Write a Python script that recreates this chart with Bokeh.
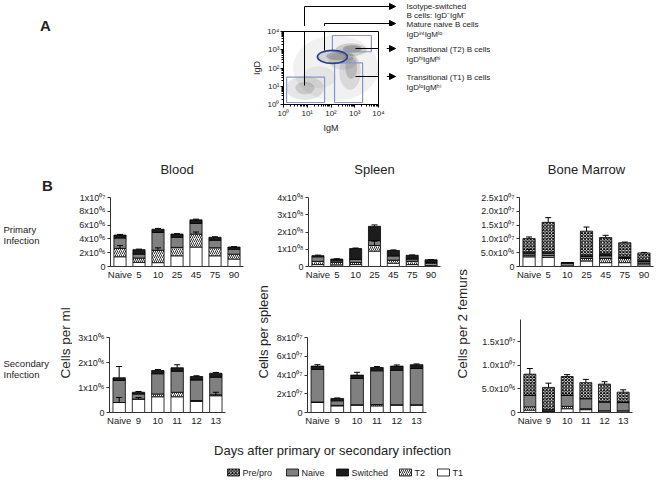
import math
import numpy as np
from bokeh.plotting import figure
from bokeh.models import (ColumnDataSource, FactorRange, Range1d, FixedTicker,
                          Arrow, NormalHead, TeeHead, Whisker)
from bokeh.layouts import row, column
from bokeh.embed import file_html
from bokeh.resources import INLINE
from bokeh.core.properties import value

FONT = "Liberation Sans"
TXT = "#222222"

# ---------------- data ----------------
primary_days = ["Naive", "5", "10", "25", "45", "75", "90"]
secondary_days = ["Naive", "9", "10", "11", "12", "13"]

# Blood, primary infection (cells per ml, x1e6)
blood1_T1 = [1.41, 0.60, 0.56, 1.55, 2.82, 1.55, 1.08]
blood1_T2 = [1.22, 0.62, 1.79, 1.22, 1.88, 1.17, 0.70]
blood1_Naive = [1.50, 0.56, 2.58, 1.46, 1.54, 1.08, 0.71]
blood1_Switched = [0.42, 0.66, 0.47, 0.47, 0.52, 0.43, 0.33]
blood1_err = [0.10, 0.08, 0.12, 0.06, 0.10, 0.08, 0.06]
blood1_err_T2 = [0.40, 0.0, 0.35, 0.0, 0.30, 0.0, 0.0]

# Spleen, primary infection (cells per spleen, x1e8)
spleen1_T1 = [0.11, 0.09, 0.11, 0.89, 0.19, 0.11, 0.06]
spleen1_T2 = [0.19, 0.15, 0.13, 0.33, 0.18, 0.19, 0.13]
spleen1_Naive = [0.26, 0.09, 0.17, 0.28, 0.24, 0.13, 0.05]
spleen1_Switched = [0.07, 0.10, 0.63, 0.83, 0.32, 0.22, 0.15]
spleen1_err = [0.03, 0.02, 0.03, 0.08, 0.03, 0.02, 0.01]
spleen1_err_T2 = [0.0, 0.0, 0.0, 0.25, 0.0, 0.0, 0.0]

# Bone marrow, primary infection (cells per 2 femurs, x1e6)
marrow1_T1 = [3.5, 3.3, 0.1, 2.0, 1.4, 1.4, 0.6]
marrow1_T2 = [0.6, 0.7, 0.1, 0.9, 1.5, 1.5, 0.6]
marrow1_Naive = [0.7, 0.8, 1.0, 0.7, 1.0, 0.3, 0.6]
marrow1_Switched = [0.4, 0.4, 0.2, 0.5, 0.75, 0.3, 0.5]
marrow1_Prepro = [4.9, 10.8, 0.0, 8.7, 5.85, 5.1, 2.6]
marrow1_err = [0.6, 1.7, 0.0, 1.5, 0.8, 0.25, 0.2]
marrow1_err_Switched = [1.0, 0.0, 0.0, 0.0, 0.0, 0.0, 0.0]

# Blood, secondary infection (x1e6)
blood2_T1 = [0.40, 0.54, 0.63, 0.63, 0.44, 0.67]
blood2_T2 = [0.00, 0.00, 0.11, 0.18, 0.04, 0.04]
blood2_Naive = [0.88, 0.20, 0.81, 0.84, 0.82, 0.70]
blood2_Switched = [0.11, 0.07, 0.13, 0.14, 0.14, 0.16]
blood2_err = [0.45, 0.03, 0.04, 0.12, 0.03, 0.03]
blood2_err_T1 = [0.20, 0.06, 0.0, 0.0, 0.0, 0.14]

# Spleen, secondary infection (x1e7)
spleen2_T1 = [1.07, 0.71, 0.78, 0.71, 0.78, 0.78]
spleen2_T2 = [0.05, 0.05, 0.05, 0.14, 0.05, 0.05]
spleen2_Naive = [3.48, 0.49, 2.80, 3.60, 3.67, 3.87]
spleen2_Switched = [0.35, 0.25, 0.36, 0.35, 0.45, 0.40]
spleen2_err = [0.15, 0.05, 0.30, 0.10, 0.12, 0.08]

# Bone marrow, secondary infection (x1e6)
marrow2_T1 = [0.5, 0.3, 0.8, 0.6, 0.35, 0.35]
marrow2_T2 = [0.7, 0.0, 0.5, 0.2, 0.0, 0.0]
marrow2_Naive = [2.4, 0.3, 2.3, 2.1, 1.85, 1.75]
marrow2_Switched = [0.1, 0.0, 0.1, 0.1, 0.1, 0.1]
marrow2_Prepro = [4.4, 4.7, 3.9, 3.3, 3.7, 2.1]
marrow2_err = [1.2, 0.9, 0.4, 0.7, 0.5, 0.5]

# tick labels
blood1_ticks = [0, 2, 4, 6, 8, 10]
blood1_labels = ["0", "2x10⁰⁶", "4x10⁰⁶", "6x10⁰⁶", "8x10⁰⁶", "1x10⁰⁷"]
spleen1_ticks = [0, 1, 2, 3, 4]
spleen1_labels = ["0", "1x10⁰⁸", "2x10⁰⁸", "3x10⁰⁸", "4x10⁰⁸"]
marrow1_ticks = [0, 5, 10, 15, 20, 25]
marrow1_labels = ["0", "5.0x10⁰⁶", "1.0x10⁰⁷", "1.5x10⁰⁷", "2.0x10⁰⁷", "2.5x10⁰⁷"]
blood2_ticks = [0, 1, 2, 3]
blood2_labels = ["0", "1x10⁰⁶", "2x10⁰⁶", "3x10⁰⁶"]
spleen2_ticks = [0, 2, 4, 6, 8]
spleen2_labels = ["0", "2x10⁰⁷", "4x10⁰⁷", "6x10⁰⁷", "8x10⁰⁷"]
marrow2_ticks = [0, 5, 10, 15]
marrow2_labels = ["0", "5.0x10⁰⁶", "1.0x10⁰⁷", "1.5x10⁰⁷"]

# Flow cytometry panel (log10 units): density clouds and gates
flow_decades = [0, 1, 2, 3, 4]
flow_decade_labels = ["10⁰", "10¹", "10²", "10³", "10⁴"]
cloud_x = [2.2, 0.9, 0.9, 2.2, 2.25, 2.85, 2.9, 2.8, 2.85, 2.5, 1.5]
cloud_y = [2.0, 0.9, 0.9, 2.6, 2.65, 3.0, 3.05, 1.8, 2.0, 2.4, 1.5]
cloud_w = [3.6, 1.6, 0.8, 1.5, 0.9, 1.3, 0.8, 0.9, 0.5, 1.2, 1.4]
cloud_h = [3.6, 1.3, 0.7, 0.8, 0.45, 0.7, 0.4, 2.0, 1.2, 1.0, 1.2]
cloud_alpha = [0.07, 0.13, 0.16, 0.16, 0.28, 0.2, 0.32, 0.13, 0.2, 0.1, 0.06]
gate_left = [0.13, 2.06, 2.15]
gate_right = [1.73, 3.70, 3.33]
gate_bottom = [0.11, 2.89, 0.11]
gate_top = [1.50, 3.78, 2.28]
naive_gate = dict(x=2.06, y=2.61, w=1.26, h=0.72)
ann_texts = [["Isotype-switched", "B cells: IgD⁻IgM⁻"],
             ["Mature naive B cells", "IgDⁱⁿᵗIgMˡᵒ"],
             ["Transitional (T2) B cells", "IgDʰⁱIgMʰⁱ"],
             ["Transitional (T1) B cells", "IgDˡᵒIgMʰⁱ"]]

legend_order = ["Pre/pro", "Naive", "Switched", "T2", "T1"]

LAYERS = ["T1", "T2", "Naive", "Switched", "Pre/pro"]
STYLE = {
    "T1": dict(fill_color="white"),
    "T2": dict(fill_color="white", hatch_pattern="/", hatch_color="black",
               hatch_scale=4, hatch_weight=0.8),
    "Naive": dict(fill_color="#808080"),
    "Switched": dict(fill_color="#1c1c1c"),
    "Pre/pro": dict(fill_color="white", hatch_pattern="x", hatch_color="black",
                    hatch_scale=3.2, hatch_weight=1),
}


def to_data(geo, rx, ry):
    """page pixel -> data coordinates of a panel"""
    cx = rx - geo["x0"]
    cy = ry - geo["y0"]
    x = (cx - geo["fl"]) / geo["fw"] * geo["n"]
    y = (geo["fb"] - cy) / (geo["fb"] - geo["ft"]) * geo["yend"]
    return x, y


def text_fig(w, h):
    p = figure(width=w, height=h, x_range=Range1d(0, w), y_range=Range1d(0, h),
               x_axis_type=None, y_axis_type=None, output_backend="svg",
               toolbar_location=None, min_border=0, min_border_left=0, min_border_right=0,
               min_border_top=0, min_border_bottom=0, frame_align=False)
    p.outline_line_color = None
    p.background_fill_color = "white"
    p.border_fill_color = "white"
    return p


def put(p, x0, y0, rx, ry, text, size, align="left", bold=False, angle=0.0):
    """write a text at page pixel (rx, ry) into a text figure placed at (x0, y0)"""
    h = p.height
    p.text(x=[rx - x0], y=[h - (ry - y0)], text=[text],
           text_font=value(FONT), text_font_size=value(size), text_color=TXT,
           text_align=align, text_baseline="middle", angle=angle,
           text_font_style="bold" if bold else "normal")


def line_in(p, x0, y0, a, b, head=False):
    """leader line between page pixels a and b inside a strip figure"""
    h = p.height
    xs, ys = a[0] - x0, h - (a[1] - y0)
    xe, ye = b[0] - x0, h - (b[1] - y0)
    p.add_layout(Arrow(x_start=xs, y_start=ys, x_end=xe, y_end=ye, line_color="black",
                       line_width=1,
                       end=NormalHead(size=6, fill_color="black", line_color="black") if head else None))


def make_panel(geo, days, layers, err_total, inner, ticks, labels, title=None):
    w, h, fl, fw, ft, fb = geo["w"], geo["h"], geo["fl"], geo["fw"], geo["ft"], geo["fb"]
    p = figure(width=w, height=h, x_range=FactorRange(*days), y_range=Range1d(0, geo["yend"]),
               output_backend="svg", toolbar_location=None, frame_align=False, min_border=0,
               min_border_left=fl, min_border_right=w - fl - fw,
               min_border_top=ft, min_border_bottom=h - fb)
    p.outline_line_color = None
    p.background_fill_color = "white"
    p.border_fill_color = "white"
    p.xgrid.visible = False
    p.ygrid.visible = False
    if title:
        p.title.text = title
        p.title.align = "center"
        p.title.text_font = FONT
        p.title.text_font_size = "13px"
        p.title.text_font_style = "normal"
        p.title.text_color = TXT
        p.title.standoff = 42
    cum = np.zeros(len(days))
    levels = {}
    for name in LAYERS:
        vals = np.array(layers.get(name, [0] * len(days)), dtype=float)
        if np.any(vals):
            src = ColumnDataSource(dict(day=days, bottom=cum.copy(), top=cum + vals))
            p.vbar(x="day", bottom="bottom", top="top", width=0.64, source=src,
                   line_color="black", line_width=0.8, **STYLE[name])
            cum = cum + vals
        levels[name] = cum.copy()
    errs = [(cum, err_total)] + [(levels[k], v) for k, v in inner.items()]
    for base, e in errs:
        idx = [i for i, v in enumerate(e) if v > 0]
        if not idx:
            continue
        src = ColumnDataSource(dict(day=[days[i] for i in idx],
                                    lower=[float(base[i]) for i in idx],
                                    upper=[float(base[i] + e[i]) for i in idx]))
        wk = Whisker(source=src, base="day", lower="lower", upper="upper", dimension="height",
                     line_color="black", line_width=1, lower_head=None,
                     upper_head=TeeHead(size=6, line_color="black", line_width=1),
                     level="annotation")
        p.add_layout(wk)
    xa = p.xaxis[0]
    xa.axis_line_color = "#333333"
    xa.major_tick_out = 0
    xa.major_tick_in = 0
    xa.minor_tick_line_color = None
    xa.major_label_standoff = 2
    xa.major_label_text_font = FONT
    xa.major_label_text_font_size = "9.5px"
    xa.major_label_text_color = TXT
    ya = p.yaxis[0]
    ya.ticker = FixedTicker(ticks=ticks)
    ya.major_label_overrides = {t: l for t, l in zip(ticks, labels)}
    ya.axis_line_color = "#333333"
    ya.major_tick_line_color = "#333333"
    ya.major_tick_out = 3
    ya.major_tick_in = 0
    ya.minor_tick_line_color = None
    ya.major_label_standoff = 2
    ya.major_label_text_font = FONT
    ya.major_label_text_font_size = "9px"
    ya.major_label_text_color = TXT
    return p


# ---------------- row A: flow cytometry ----------------
HA = 138
TOP_H = 26                      # strip above the flow plot
txtA = text_fig(238, HA)
put(txtA, 0, 0, 45, 25, "A", "15px", align="center", bold=True)

# plot canvas x 238..386, y 26..138 ; frame x 283..378, y 31..104
geoA = dict(x0=238, y0=TOP_H, w=148, h=HA - TOP_H, fl=45, fw=95, ft=5, fb=78, n=4, yend=4)
pa = figure(width=geoA["w"], height=geoA["h"], x_range=Range1d(0, 4), y_range=Range1d(0, 4),
            output_backend="svg", toolbar_location=None, frame_align=False, min_border=0,
            min_border_left=geoA["fl"], min_border_right=geoA["w"] - geoA["fl"] - geoA["fw"],
            min_border_top=geoA["ft"], min_border_bottom=geoA["h"] - geoA["fb"])
pa.outline_line_color = "black"
pa.outline_line_width = 1
pa.xgrid.visible = False
pa.ygrid.visible = False
minor = [k + math.log10(m) for k in range(4) for m in range(2, 10)]
for ax, lab in ((pa.xaxis[0], "IgM"), (pa.yaxis[0], "IgD")):
    ax.ticker = FixedTicker(ticks=flow_decades, minor_ticks=minor)
    ax.major_label_overrides = {t: l for t, l in zip(flow_decades, flow_decade_labels)}
    ax.major_tick_out = 3
    ax.major_tick_in = 0
    ax.minor_tick_out = 2
    ax.minor_tick_in = 0
    ax.axis_line_color = "black"
    ax.major_label_text_font = FONT
    ax.major_label_text_font_size = "8px"
    ax.major_label_text_color = TXT
    ax.major_label_standoff = 1
    ax.axis_label = lab
    ax.axis_label_text_font = FONT
    ax.axis_label_text_font_size = "9px"
    ax.axis_label_text_font_style = "normal"
    ax.axis_label_text_color = TXT
    ax.axis_label_standoff = 2

pa.ellipse(x=cloud_x, y=cloud_y, width=cloud_w, height=cloud_h,
           fill_color="#3a3a3a", fill_alpha=cloud_alpha, line_color=None)
pa.quad(left=gate_left, right=gate_right, bottom=gate_bottom, top=gate_top,
        fill_color=None, line_color="#8696cc", line_width=1.2)
pa.ellipse(x=[naive_gate["x"]], y=[naive_gate["y"]], width=[naive_gate["w"]],
           height=[naive_gate["h"]], fill_color=None, line_color="#2c3f8f", line_width=1.8)

# leader lines: parts inside the flow plot frame
inner_segs = [((304, 85), (304, 31)), ((324, 50), (324, 31)),
              ((355, 48), (378, 48)), ((355, 76), (378, 76))]
for a, b in inner_segs:
    xa_, ya_ = to_data(geoA, *a)
    xb_, yb_ = to_data(geoA, *b)
    pa.segment(x0=[xa_], y0=[ya_], x1=[xb_], y1=[yb_], line_color="black", line_width=1)

# leader lines crossing the plot's thin borders (drawn as tee heads)
bridges = [((303.5, 28.5), (304, 28.5), 8), ((323.5, 28.5), (324, 28.5), 8),
           ((382, 47.5), (382, 48), 10), ((382, 75.5), (382, 76), 10)]
for a, b, size in bridges:
    xs, ys = to_data(geoA, *a)
    xe, ye = to_data(geoA, *b)
    pa.add_layout(Arrow(x_start=xs, y_start=ys, x_end=xe, y_end=ye, line_color="black",
                        line_width=1, end=TeeHead(size=size, line_color="black", line_width=1)))

# leader lines above the frame
top_strip = text_fig(166, TOP_H)
line_in(top_strip, 238, 0, (304, TOP_H), (304, 6))
line_in(top_strip, 238, 0, (304, 6), (395, 6), head=True)
line_in(top_strip, 238, 0, (324, TOP_H), (324, 23))
line_in(top_strip, 238, 0, (324, 23), (395, 23), head=True)
# leader lines to the right of the frame
right_strip = text_fig(18, HA - TOP_H)
line_in(right_strip, 386, TOP_H, (386, 48), (395, 48), head=True)
line_in(right_strip, 386, TOP_H, (386, 76), (395, 76), head=True)

txtAnn = text_fig(252, HA)
text_rows = [(6, 15), (24, 34), (49, 59), (77, 87)]
for (l1, l2), (y1, y2) in zip(ann_texts, text_rows):
    put(txtAnn, 404, 0, 406, y1, l1, "8px")
    put(txtAnn, 404, 0, 406, y2, l2, "8px")

# ---------------- panel B ----------------
Y1, H1 = 138, 144
Y2, H2 = 282, 147

txtB1 = text_fig(58, H1)
put(txtB1, 0, Y1, 47, 185, "B", "15px", align="center", bold=True)
put(txtB1, 0, Y1, 3, 229, "Primary", "9.5px")
put(txtB1, 0, Y1, 3, 240, "Infection", "9.5px")

g_b1 = dict(x0=58, y0=Y1, w=195, h=H1, fl=52, fw=133, ft=57, fb=128, n=7, yend=10)
g_s1 = dict(x0=253, y0=Y1, w=195, h=H1, fl=55, fw=132, ft=56, fb=128, n=7, yend=4)
g_m1 = dict(x0=471, y0=Y1, w=185, h=H1, fl=48, fw=134, ft=57, fb=128, n=7, yend=25)

pb1 = make_panel(g_b1, primary_days,
                 {"T1": blood1_T1, "T2": blood1_T2, "Naive": blood1_Naive, "Switched": blood1_Switched},
                 blood1_err, {"T2": blood1_err_T2}, blood1_ticks, blood1_labels, "Blood")
ps1 = make_panel(g_s1, primary_days,
                 {"T1": spleen1_T1, "T2": spleen1_T2, "Naive": spleen1_Naive, "Switched": spleen1_Switched},
                 spleen1_err, {"T2": spleen1_err_T2}, spleen1_ticks, spleen1_labels, "Spleen")
pm1 = make_panel(g_m1, primary_days,
                 {"T1": marrow1_T1, "T2": marrow1_T2, "Naive": marrow1_Naive,
                  "Switched": marrow1_Switched, "Pre/pro": marrow1_Prepro},
                 marrow1_err, {"Switched": marrow1_err_Switched}, marrow1_ticks, marrow1_labels,
                 "Bone Marrow")

txtB2 = text_fig(72, H2)
put(txtB2, 0, Y2, 3, 363, "Secondary", "9.5px")
put(txtB2, 0, Y2, 3, 374, "Infection", "9.5px")
put(txtB2, 0, Y2, 65, 378, "Cells per ml", "13.5px", angle=math.pi / 2)

g_b2 = dict(x0=72, y0=Y2, w=166, h=H2, fl=37, fw=116, ft=55, fb=130, n=6, yend=3)
txtS = text_fig(33, H2)
put(txtS, 238, Y2, 263, 378, "Cells per spleen", "13px", angle=math.pi / 2)
g_s2 = dict(x0=271, y0=Y2, w=177, h=H2, fl=36, fw=119, ft=55, fb=130, n=6, yend=8)
# tall strip spanning both rows for the bone marrow axis title
txtM = text_fig(23, H1 + H2)
put(txtM, 448, Y1, 462, 378, "Cells per 2 femurs", "13.5px", angle=math.pi / 2)
g_m2 = dict(x0=471, y0=Y2, w=185, h=H2, fl=49, fw=112, ft=37, fb=130, n=6, yend=19.65)

pb2 = make_panel(g_b2, secondary_days,
                 {"T1": blood2_T1, "T2": blood2_T2, "Naive": blood2_Naive, "Switched": blood2_Switched},
                 blood2_err, {"T1": blood2_err_T1}, blood2_ticks, blood2_labels)
ps2 = make_panel(g_s2, secondary_days,
                 {"T1": spleen2_T1, "T2": spleen2_T2, "Naive": spleen2_Naive, "Switched": spleen2_Switched},
                 spleen2_err, {}, spleen2_ticks, spleen2_labels)
pm2 = make_panel(g_m2, secondary_days,
                 {"T1": marrow2_T1, "T2": marrow2_T2, "Naive": marrow2_Naive,
                  "Switched": marrow2_Switched, "Pre/pro": marrow2_Prepro},
                 marrow2_err, {}, marrow2_ticks, marrow2_labels)

# ---------------- bottom: axis caption and legend ----------------
Y3, H3 = 429, 49
pbot = text_fig(656, H3)
put(pbot, 0, Y3, 332, 450, "Days after primary or secondary infection", "13px", align="center")
legend_left = [227, 286, 336, 399, 437]   # page x of each legend swatch
for name, lx in zip(legend_order, legend_left):
    pbot.rect(x=[lx + 6], y=[H3 - (472 - Y3)], width=12, height=7, line_color="black",
              line_width=0.8, **STYLE[name])
    put(pbot, 0, Y3, lx + 15, 472, name, "9px")

left_block = column(row(txtB1, pb1, ps1), row(txtB2, pb2, txtS, ps2))
rowB = row(left_block, txtM, column(pm1, pm2))
rowA = row(txtA, column(top_strip, row(pa, right_strip)), txtAnn)
layout = column(rowA, rowB, pbot)
open("out.html", "w").write(file_html(layout, INLINE))
